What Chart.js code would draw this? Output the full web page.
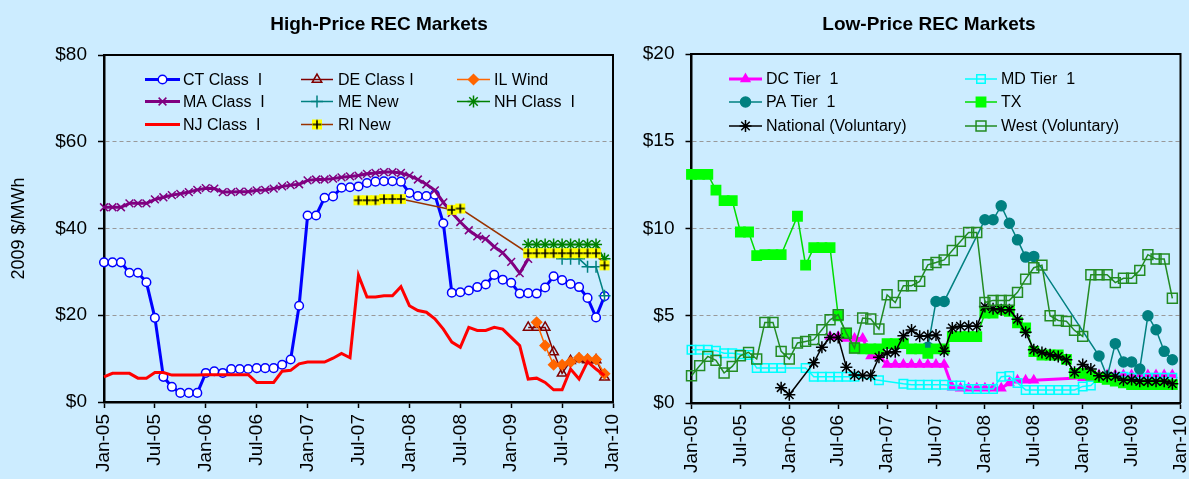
<!DOCTYPE html>
<html lang="en">
<head>
<meta charset="UTF-8">
<title>REC Markets</title>
<script src="https://cdn.jsdelivr.net/npm/chart.js"></script>
<style>
    html, body { margin: 0; padding: 0; overflow: hidden; }
    body { background: #CCECFF; width: 1189px; height: 479px; position: relative; }
    .panel { position: absolute; top: 0; height: 479px; }
    #leftPanel { left: 0; width: 626px; }
    #rightPanel { left: 626px; width: 563px; }
</style>
</head>
<body>
<div class="panel" id="leftPanel"><canvas id="highChart"></canvas></div>
<div class="panel" id="rightPanel"><canvas id="lowChart"></canvas></div>

<script>
    // month index 0 = Jan-05 ... 59 = Dec-09
    const months = Array.from({length: 60}, (_, i) => i);
    const xTickLabels = ['Jan-05', 'Jul-05', 'Jan-06', 'Jul-06', 'Jan-07', 'Jul-07',
                         'Jan-08', 'Jul-08', 'Jan-09', 'Jul-09', 'Jan-10'];

    // series that start later than Jan-05
    function fromMonth(start, values) {
        return new Array(start).fill(null).concat(values);
    }

    // ---- High-price markets ($/MWh) ----
    const ctClass1 = [32.2, 32.2, 32.2, 29.8, 29.8, 27.6, 19.4, 5.8, 3.5, 2.1,
                      2.1, 2.1, 6.7, 7.1, 6.7, 7.6, 7.6, 7.6, 7.8, 7.8,
                      7.8, 8.6, 9.8, 22.2, 43.0, 43.0, 47.1, 47.4, 49.4, 49.5,
                      49.7, 50.5, 50.8, 50.9, 50.9, 50.8, 48.2, 47.5, 47.5, 47.8,
                      41.2, 25.2, 25.3, 25.7, 26.5, 27.1, 29.3, 28.2, 27.5, 25.0,
                      25.1, 25.0, 26.4, 29.0, 28.1, 27.2, 26.5, 24.0, 19.5, 24.4];
    const deClass1 = fromMonth(50, [17.2, 17.2, 17.2, 11.5, 6.6, 9.5, 9.9, 9.7, 9.7, 5.7]);
    const ilWind = fromMonth(51, [18.4, 13.0, 8.6, 8.6, 9.2, 10.2, 9.9, 9.8, 6.5]);
    const maClass1 = [44.9, 44.9, 44.9, 45.8, 45.8, 45.8, 46.7, 47.2, 47.7, 48.0,
                      48.4, 48.9, 49.3, 49.2, 48.4, 48.4, 48.5, 48.5, 48.8, 48.9,
                      49.2, 49.7, 50.0, 50.2, 51.1, 51.3, 51.3, 51.5, 51.8, 52.0,
                      52.2, 52.6, 52.8, 53.0, 53.0, 52.8, 52.2, 51.3, 50.2, 48.8,
                      46.0, 43.6, 41.5, 39.6, 38.2, 37.6, 35.8, 34.4, 32.3, 29.7,
                      33.0];
    const meNew = fromMonth(54, [33.0, 33.0, 33.0, 31.2, 31.2, 24.5]);
    const nhClass1 = fromMonth(50, [36.3, 36.3, 36.3, 36.3, 36.3, 36.3, 36.3, 36.3, 36.3, 33.0]);
    const njClass1 = [5.8, 6.6, 6.6, 6.6, 5.5, 5.5, 6.8, 6.8, 6.2, 6.2,
                      6.2, 6.2, 6.3, 6.3, 6.3, 6.3, 6.3, 6.3, 4.5, 4.5,
                      4.5, 7.1, 7.3, 8.8, 9.2, 9.2, 9.2, 10.1, 11.2, 10.2,
                      29.2, 24.2, 24.2, 24.5, 24.5, 26.6, 22.2, 21.1, 20.7, 19.2,
                      16.8, 13.8, 12.6, 17.2, 16.5, 16.5, 17.2, 16.8, 14.9, 13.0,
                      5.3, 5.5, 4.5, 2.8, 2.8, 7.6, 5.3, 9.3, 7.6, 6.1];
    const riNew = fromMonth(30, [46.5, 46.5, 46.5, 46.8, 46.8, 46.8, null, null, null, null,
                                 null, 44.3, 44.6, null, null, null, null, null, null, null,
                                 34.3, 34.3, 34.3, 34.3, 34.3, 34.3, 34.3, 34.3, 34.3, 31.5]);

    // ---- Low-price markets ($/MWh) ----
    const dcTier1 = fromMonth(17, [3.8, 3.8, 3.7, 3.7, 3.7, 2.7, 2.7, 2.2, 2.2, 2.2,
                                   2.2, 2.2, 2.2, 2.2, 2.2, 0.9, 0.85, 0.85, 0.85, 0.85,
                                   0.85, 0.85, 1.15, 1.3, 1.3, 1.3, null, null, null, null,
                                   null, 1.45, 1.45, 1.6, 1.6, 1.6, 1.6, 1.6, 1.6, 1.6,
                                   1.6, 1.6, 1.6]);
    const mdTier1 = [3.05, 3.05, 3.05, 3.0, 2.85, 2.85, 2.8, 2.75, 2.0, 2.0,
                     2.0, 2.0, null, null, 2.0, 1.5, 1.5, 1.5, 1.5, 1.5,
                     1.5, null, null, 1.3, null, null, 1.1, 1.05, 1.05, 1.05,
                     1.05, 1.05, 1.0, 1.0, 0.8, 0.8, 0.8, 0.8, 1.5, 1.55,
                     1.15, 0.75, 0.75, 0.75, 0.75, 0.75, 0.75, 0.75, 0.95, 1.0,
                     1.45, 1.45, 1.45, 1.5, 1.45, 1.45, 1.45, 1.45, 1.45, 1.45];
    const paTier1 = fromMonth(29, [3.2, 5.82, 5.82, null, null, null, null, 10.5, 10.5, 11.3,
                                   10.3, 9.35, 8.36, 8.4, null, null, null, null, null, null,
                                   null, 2.7, 1.5, 3.4, 2.35, 2.35, 1.95, 5.0, 4.2, 2.96,
                                   2.48]);
    const txRec = [13.1, 13.1, 13.1, 12.2, 11.6, 11.6, 9.8, 9.8, 8.45, 8.5,
                   8.5, 8.5, null, 10.7, 7.9, 8.9, 8.9, 8.9, 5.0, 4.0,
                   3.15, 3.1, 3.1, 3.1, 3.4, 3.4, 3.4, 3.1, 3.1, 2.85,
                   3.1, 3.1, 3.8, 3.8, 3.8, 3.8, 5.15, 5.15, 5.35, 5.25,
                   4.6, 4.3, 2.95, 2.75, 2.75, 2.75, 2.5, 1.7, 1.7, 1.6,
                   1.45, 1.35, 1.25, 1.15, 1.05, 1.05, 1.05, 1.05, 1.05, 1.05];
    const national = fromMonth(11, [0.88, 0.47, null, null, 2.3, 3.2, 3.75, 3.75, 2.05, 1.6,
                                    1.58, 1.58, 2.62, 2.86, 2.93, 3.85, 4.18, 3.83, 3.85, 3.9,
                                    2.96, 4.3, 4.4, 4.4, 4.4, 5.53, 5.4, 5.35, 5.35, 4.8,
                                    4.05, 3.05, 2.9, 2.77, 2.67, 2.48, 1.76, 2.2, 1.95, 1.56,
                                    1.53, 1.53, 1.3, 1.34, 1.24, 1.24, 1.24, 1.24, 1.1]);
    const westVol = [1.56, 2.14, 2.67, 2.44, 1.72, 2.1, 2.71, 2.9, 2.52, 4.62,
                     4.62, 2.96, 2.52, 3.44, 3.53, 3.63, 4.2, 4.77, 5.06, 4.0,
                     3.15, 4.87, 4.81, 4.24, 6.2, 5.76, 6.72, 6.72, 6.97, 7.92,
                     8.05, 8.2, 8.74, 9.26, 9.77, 9.77, 5.76, 5.88, 5.88, 5.88,
                     6.34, 7.1, 7.75, 7.9, 5.0, 4.73, 4.68, 4.16, 3.82, 7.35,
                     7.35, 7.35, 6.9, 7.15, 7.15, 7.6, 8.5, 8.25, 8.25, 6.0];

    const FONT = "'Liberation Sans', Arial, sans-serif";

    // yellow square with a black plus, used by RI New
    function riMarker() {
        const c = document.createElement('canvas');
        c.width = 12; c.height = 12;
        const g = c.getContext('2d');
        g.fillStyle = '#FFFF00';
        g.fillRect(1, 1, 10, 10);
        g.strokeStyle = '#000';
        g.lineWidth = 1.6;
        g.beginPath();
        g.moveTo(6, 1.5); g.lineTo(6, 10.5);
        g.moveTo(1.5, 6); g.lineTo(10.5, 6);
        g.stroke();
        return c;
    }

    function series(label, data, color, width, style, radius, fill, markColor) {
        return {
            label: label,
            data: data,
            borderColor: color,
            borderWidth: width,
            pointStyle: style,
            pointRadius: radius,
            pointHoverRadius: radius,
            pointBackgroundColor: fill,
            pointBorderColor: markColor || color,
            pointBorderWidth: 1.5,
            backgroundColor: fill,
            spanGaps: true,
            tension: 0,
            clip: false,
            fill: false
        };
    }

    // title, frame and legend drawn inside the panel
    const panelPlugin = {
        id: 'panel',
        beforeDatasetsDraw(chart) {
            const {ctx, chartArea: a} = chart;
            ctx.save();
            ctx.strokeStyle = '#000';
            ctx.lineWidth = 2;
            ctx.beginPath();
            ctx.moveTo(a.left, a.top);
            ctx.lineTo(a.right, a.top);
            ctx.lineTo(a.right, a.bottom);
            ctx.stroke();
            ctx.restore();
        },
        afterDraw(chart, args, opts) {
            const ctx = chart.ctx;
            ctx.save();
            ctx.fillStyle = '#000';
            ctx.font = 'bold 19px ' + FONT;
            ctx.textAlign = 'center';
            ctx.textBaseline = 'middle';
            ctx.fillText(opts.title, opts.titleX, opts.titleY);

            ctx.font = '16px ' + FONT;
            ctx.textAlign = 'left';
            chart.data.datasets.forEach((ds, i) => {
                const col = opts.cols[i % opts.cols.length];
                const y = opts.rows[Math.floor(i / opts.cols.length)];
                ctx.strokeStyle = ds.borderColor;
                ctx.lineWidth = ds.borderWidth;
                ctx.beginPath();
                ctx.moveTo(col[0], y);
                ctx.lineTo(col[1], y);
                ctx.stroke();
                const mx = (col[0] + col[1]) / 2;
                if (ds.pointRadius > 0) {
                    if (ds.pointStyle instanceof HTMLCanvasElement) {
                        ctx.drawImage(ds.pointStyle, mx - 6, y - 6);
                    } else {
                        ctx.fillStyle = ds.pointBackgroundColor;
                        ctx.strokeStyle = ds.pointBorderColor;
                        ctx.lineWidth = ds.pointBorderWidth;
                        Chart.helpers.drawPoint(ctx, {
                            pointStyle: ds.pointStyle,
                            rotation: 0,
                            radius: ds.pointRadius,
                            borderWidth: ds.pointBorderWidth
                        }, mx, y);
                    }
                }
                ctx.fillStyle = '#000';
                ctx.fillText(ds.label, col[2], y + 1);
            });
            ctx.restore();
        }
    };

    function makeOptions(yMax, yStep, yWidth, xHeight, padTop, padRight, yTitle, panel) {
        return {
            responsive: false,
            animation: false,
            events: [],
            layout: { padding: { top: padTop, right: padRight, left: 0, bottom: 0 } },
            plugins: {
                legend: { display: false },
                tooltip: { enabled: false },
                panel: panel
            },
            scales: {
                x: {
                    type: 'linear',
                    min: 0,
                    max: 60,
                    afterFit(scale) {
                        scale.height = xHeight;
                        scale.paddingLeft = 0;
                        scale.paddingRight = 0;
                    },
                    ticks: {
                        stepSize: 6,
                        autoSkip: false,
                        minRotation: 90,
                        maxRotation: 90,
                        padding: 6,
                        color: '#000',
                        font: { family: FONT, size: 19 },
                        callback: (v) => (v % 6 === 0 ? xTickLabels[v / 6] : '')
                    },
                    grid: {
                        drawOnChartArea: false,
                        drawTicks: true,
                        tickLength: 6,
                        tickColor: '#000',
                        tickWidth: 1.5
                    },
                    border: { display: true, color: '#000', width: 2.5 }
                },
                y: {
                    min: 0,
                    max: yMax,
                    afterFit(scale) {
                        scale.width = yWidth;
                        scale.paddingTop = 0;
                        scale.paddingBottom = 0;
                    },
                    ticks: {
                        stepSize: yStep,
                        padding: 11,
                        color: '#000',
                        font: { family: FONT, size: 19 },
                        callback: (v) => '$' + v
                    },
                    grid: {
                        color: (c) => (c.tick && (c.tick.value === 0 || c.tick.value === yMax) ? 'rgba(0,0,0,0)' : '#999999'),
                        lineWidth: 1,
                        drawTicks: true,
                        tickLength: 6,
                        tickColor: '#000',
                        tickWidth: 1.5,
                        tickBorderDash: []
                    },
                    border: { display: true, color: '#000', width: 2.5, dash: [4, 3] },
                    title: {
                        display: !!yTitle,
                        text: yTitle,
                        color: '#000',
                        padding: { top: 8, bottom: 0 },
                        font: { family: FONT, size: 18 }
                    }
                }
            }
        };
    }

    function withOrder(list) {
        // later series drawn on top, as in the original
        list.forEach((ds, i) => { ds.order = -i; });
        return list;
    }

    // ---- left chart ----
    const highSets = withOrder([
        series('CT Class  I', ctClass1, '#0000FF', 3, 'circle', 4.3, '#FFFFFF'),
        series('DE Class I', deClass1, '#800000', 1.5, 'triangle', 5.5, 'rgba(0,0,0,0)'),
        series('IL Wind', ilWind, '#FF6600', 1.5, 'rectRot', 5, '#FF6600'),
        series('MA Class  I', maClass1, '#800080', 3, 'crossRot', 5.5, 'rgba(0,0,0,0)'),
        series('ME New', meNew, '#008080', 1.5, 'cross', 6, 'rgba(0,0,0,0)'),
        series('NH Class  I', nhClass1, '#008000', 1.5, 'star', 6, 'rgba(0,0,0,0)'),
        series('NJ Class  I', njClass1, '#FF0000', 3, 'circle', 0, '#FF0000'),
        series('RI New', riNew, '#993300', 1.5, riMarker(), 6, '#FFFF00')
    ]);

    const highCanvas = document.getElementById('highChart');
    highCanvas.width = 626;
    highCanvas.height = 479;
    new Chart(highCanvas.getContext('2d'), {
        type: 'line',
        data: { labels: months, datasets: highSets },
        options: makeOptions(80, 20, 104, 77, 55, 13, '2009 $/MWh', {
            title: 'High-Price REC Markets',
            titleX: 379,
            titleY: 25,
            cols: [[145, 180, 183], [301, 333, 338], [457, 490, 494]],
            rows: [79.5, 101.5, 124.5]
        }),
        plugins: [panelPlugin]
    });

    // ---- right chart ----
    const lowSets = withOrder([
        series('DC Tier  1', dcTier1, '#FF00FF', 3, 'triangle', 5, '#FF00FF'),
        series('MD Tier  1', mdTier1, '#00FFFF', 1.5, 'rect', 6, 'rgba(0,0,0,0)'),
        series('PA Tier  1', paTier1, '#008080', 1.5, 'circle', 5, '#008080'),
        series('TX', txRec, '#00DD00', 1.5, 'rect', 6.6, '#00FF00', '#00FF00'),
        series('National (Voluntary)', national, '#000000', 1.5, 'star', 6, 'rgba(0,0,0,0)'),
        series('West (Voluntary)', westVol, '#228B22', 1.5, 'rect', 7, 'rgba(0,0,0,0)')
    ]);

    const offset = 626;
    const lowCanvas = document.getElementById('lowChart');
    lowCanvas.width = 563;
    lowCanvas.height = 479;
    new Chart(lowCanvas.getContext('2d'), {
        type: 'line',
        data: { labels: months, datasets: lowSets },
        options: makeOptions(20, 5, 691.5 - offset, 76, 54, 1189 - 1182 - 0, '', {
            title: 'Low-Price REC Markets',
            titleX: 929 - offset,
            titleY: 25,
            cols: [[729 - offset, 762 - offset, 766 - offset], [965 - offset, 997 - offset, 1001 - offset]],
            rows: [79, 102, 126]
        }),
        plugins: [panelPlugin]
    });
</script>

</body>
</html>
